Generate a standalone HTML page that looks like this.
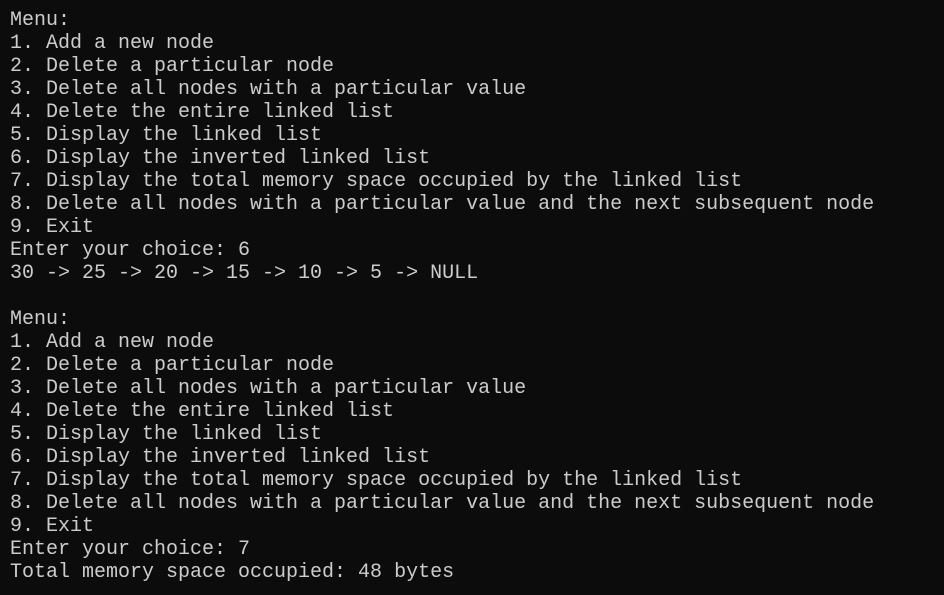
<!DOCTYPE html>
<html><head><meta charset="utf-8"><style>
html,body{margin:0;padding:0;background:#0c0c0c;width:944px;height:595px;overflow:hidden}
pre{margin:0;padding:9px 0 0 10px;font-family:"Liberation Mono","DejaVu Sans Mono",monospace;font-size:20px;line-height:23px;color:#cccccc}
</style></head><body><pre>Menu:
1. Add a new node
2. Delete a particular node
3. Delete all nodes with a particular value
4. Delete the entire linked list
5. Display the linked list
6. Display the inverted linked list
7. Display the total memory space occupied by the linked list
8. Delete all nodes with a particular value and the next subsequent node
9. Exit
Enter your choice: 6
30 -&gt; 25 -&gt; 20 -&gt; 15 -&gt; 10 -&gt; 5 -&gt; NULL

Menu:
1. Add a new node
2. Delete a particular node
3. Delete all nodes with a particular value
4. Delete the entire linked list
5. Display the linked list
6. Display the inverted linked list
7. Display the total memory space occupied by the linked list
8. Delete all nodes with a particular value and the next subsequent node
9. Exit
Enter your choice: 7
Total memory space occupied: 48 bytes</pre></body></html>
